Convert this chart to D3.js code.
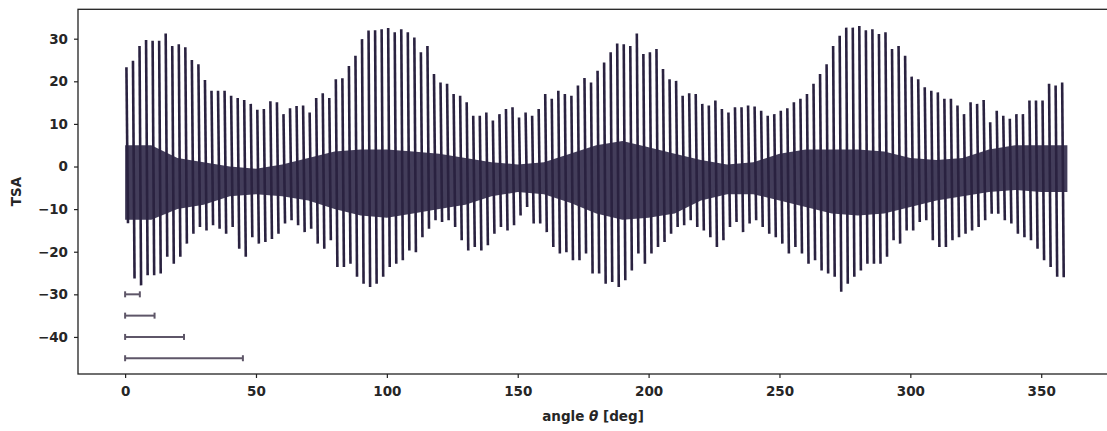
<!DOCTYPE html>
<html>
<head>
<meta charset="utf-8">
<script src="https://cdn.jsdelivr.net/npm/d3@7"></script>
<style>
  body { margin: 0; background: #fff; }
  svg { display: block; font-family: 'DejaVu Sans', sans-serif; }
</style>
</head>
<body>
<svg id="tsa"></svg>
<script>
// one meshing spike per tooth, 2.5 deg apart
const toothStart = 0.5;
const toothStep = 2.5;
const peakHi = [
  23.3, 24.8, 28.3, 29.7, 29.5, 29.5, 31.2, 28.3, 28.7, 28.0, 25.0, 24.0, 20.3, 17.8, 17.8, 17.8, 16.6, 16.1,
  15.6, 14.7, 13.3, 13.5, 15.3, 15.1, 12.3, 13.7, 14.2, 14.3, 12.7, 16.1, 17.2, 16.1, 20.5, 20.7, 23.6, 26.0,
  29.9, 31.9, 32.0, 32.2, 32.5, 31.5, 32.2, 31.5, 30.3, 26.8, 28.3, 21.7, 19.7, 19.4, 17.0, 16.6, 15.1, 11.9,
  11.9, 12.7, 10.8, 12.3, 13.5, 13.9, 11.5, 12.7, 11.9, 13.5, 17.0, 15.9, 17.8, 17.0, 16.6, 19.0, 20.8, 19.7,
  22.5, 24.4, 26.8, 28.9, 28.7, 28.3, 31.2, 26.4, 26.8, 27.6, 22.9, 20.5, 20.1, 16.6, 17.2, 17.0, 14.7, 14.3,
  15.5, 13.5, 12.7, 13.9, 13.9, 14.3, 14.1, 13.1, 11.9, 12.3, 13.1, 13.7, 15.1, 15.9, 17.0, 19.4, 21.7, 24.0,
  28.3, 30.7, 32.6, 32.6, 33.0, 32.0, 32.2, 31.1, 31.5, 27.6, 28.3, 26.0, 21.1, 20.5, 18.6, 17.8, 17.4, 15.9,
  15.9, 14.3, 12.3, 15.1, 14.7, 15.6, 10.4, 13.1, 11.9, 11.2, 12.3, 12.3, 15.5, 15.5, 15.5, 19.4, 19.0, 19.7
];
const peakLo = [
  -13.3, -26.3, -27.9, -25.5, -25.5, -25.1, -21.2, -22.8, -21.2, -18.1, -15.8, -14.2, -15.0, -13.8, -14.6, -15.8, -14.2, -19.3,
  -21.2, -16.6, -18.1, -17.7, -17.0, -15.8, -13.4, -12.6, -13.8, -15.4, -14.6, -18.1, -19.3, -17.3, -23.6, -23.6, -22.8, -25.9,
  -27.5, -28.3, -27.5, -25.9, -23.6, -22.8, -22.0, -19.7, -20.1, -16.6, -14.6, -12.6, -13.0, -12.6, -14.2, -17.3, -19.7, -18.9,
  -19.7, -18.5, -15.8, -14.2, -15.0, -13.8, -11.5, -9.5, -13.4, -13.4, -15.4, -18.9, -20.4, -20.1, -22.0, -22.0, -20.4, -25.1,
  -25.1, -27.5, -27.1, -28.3, -26.7, -24.4, -20.4, -22.8, -20.4, -18.9, -17.7, -15.8, -14.2, -13.8, -12.6, -14.2, -15.0, -16.6,
  -18.9, -17.3, -14.2, -13.0, -15.4, -13.4, -12.6, -14.2, -15.8, -16.6, -18.1, -20.4, -18.9, -20.4, -22.8, -22.0, -24.4, -25.1,
  -25.9, -29.4, -27.5, -25.9, -24.4, -22.8, -22.8, -22.8, -21.2, -17.3, -18.1, -15.0, -15.0, -13.0, -12.6, -17.3, -18.9, -18.9,
  -17.3, -16.6, -15.8, -15.0, -14.2, -12.6, -11.1, -11.1, -12.6, -13.4, -15.8, -16.6, -17.3, -19.3, -22.0, -23.6, -25.9, -26.0
];

// dense ringing band between the spikes
const bandAngle = [0, 10, 20, 30, 40, 50, 60, 70, 80, 90, 100, 110, 120, 130, 140, 150, 160, 170, 180,
  190, 200, 210, 220, 230, 240, 250, 260, 270, 280, 290, 300, 310, 320, 330, 340, 350, 360];
const bandHi = [5, 5, 2, 1, 0, -0.5, 0.5, 2, 3.5, 4, 4, 3.5, 3, 2, 1, 0.5, 1, 3, 5,
  6, 4.5, 3, 1.5, 0.5, 1, 3, 4, 4, 4, 3.5, 2, 1.5, 2, 4, 5, 5, 5];
const bandLo = [-12.5, -12.5, -10, -9, -7, -6.5, -7, -8, -10, -11.5, -12, -11, -10, -9, -7, -6, -6.5, -8.5, -11,
  -12.5, -12, -11, -8, -6.5, -6.5, -8, -9.5, -11, -11.5, -11, -9.5, -8, -7, -6, -5.5, -6, -6];

// angular resolution bars
const barY = [-30, -35, -40, -45];
const barLen = [5.625, 11.25, 22.5, 45];

const xTicks = [0, 50, 100, 150, 200, 250, 300, 350];
const yTicks = [30, 20, 10, 0, -10, -20, -30, -40];

const width = 1107, height = 431;
const ink = '#2a2240';
const txt = '#262626';

let svg = d3.select('#tsa').attr('width', width).attr('height', height);

let x = d3.scaleLinear().domain([-18, 378]).range([78, 1114.5]);
let y = d3.scaleLinear().domain([-48.7, 36.9]).range([374, 9.3]);

let plot = svg.append('g');

plot
  .append('path')
  .datum(bandAngle)
  .attr('fill', '#2f2848')
  .attr('fill-opacity', 0.9)
  .attr('d', d3.area()
    .x(d => x(d))
    .y0((d, i) => y(bandLo[i]))
    .y1((d, i) => y(bandHi[i])));

plot
  .append('g')
  .selectAll('path')
  .data(peakHi)
  .join('path')
  .attr('fill', 'none')
  .attr('stroke', ink)
  .attr('stroke-width', 2.6)
  .attr('d', (d, i) => {
    let a = toothStart + i * toothStep;
    return d3.line()([[x(a), y(d)], [x(a + 0.6), y(peakLo[i])]]);
  });

let bars = plot.append('g').attr('stroke', '#5e5668').attr('stroke-width', 2).attr('fill', 'none');
barY.forEach((v, i) => {
  let yy = y(v);
  bars.append('line').attr('x1', x(0)).attr('x2', x(barLen[i])).attr('y1', yy).attr('y2', yy);
  bars.append('line').attr('x1', x(0)).attr('x2', x(0)).attr('y1', yy - 3).attr('y2', yy + 3);
  bars.append('line').attr('x1', x(barLen[i])).attr('x2', x(barLen[i])).attr('y1', yy - 3).attr('y2', yy + 3);
});

// frame (right spine falls outside the picture)
svg
  .append('rect')
  .attr('x', 78)
  .attr('y', 9.3)
  .attr('width', 1114.5 - 78)
  .attr('height', 374 - 9.3)
  .attr('fill', 'none')
  .attr('stroke', '#222')
  .attr('stroke-width', 1.3);

let fmt = d => (d < 0 ? '\u2212' + Math.abs(d) : '' + d);

let xAxis = svg
  .append('g')
  .attr('transform', 'translate(0,374)')
  .call(d3.axisBottom(x).tickValues(xTicks).tickSize(4).tickPadding(8).tickFormat(fmt));

let yAxis = svg
  .append('g')
  .attr('transform', 'translate(78,0)')
  .call(d3.axisLeft(y).tickValues(yTicks).tickSize(4).tickPadding(6).tickFormat(fmt));

[xAxis, yAxis].forEach(ax => {
  ax.select('.domain').remove();
  ax.selectAll('line').attr('stroke', '#222').attr('stroke-width', 1.2);
  ax.selectAll('text')
    .attr('fill', txt)
    .style('font-family', "'DejaVu Sans', sans-serif")
    .style('font-size', '13.5px')
    .style('font-weight', 'bold');
});

svg
  .append('text')
  .attr('transform', 'translate(21,191.5) rotate(-90)')
  .attr('text-anchor', 'middle')
  .attr('fill', txt)
  .style('font-size', '13.5px')
  .style('font-weight', 'bold')
  .text('TSA');

let xl = svg
  .append('text')
  .attr('x', 593)
  .attr('y', 421)
  .attr('text-anchor', 'middle')
  .attr('fill', txt)
  .style('font-size', '13.5px')
  .style('font-weight', 'bold');
xl.append('tspan').text('angle ');
xl.append('tspan').style('font-style', 'italic').text('\u03b8');
xl.append('tspan').text(' [deg]');
</script>
</body>
</html>
